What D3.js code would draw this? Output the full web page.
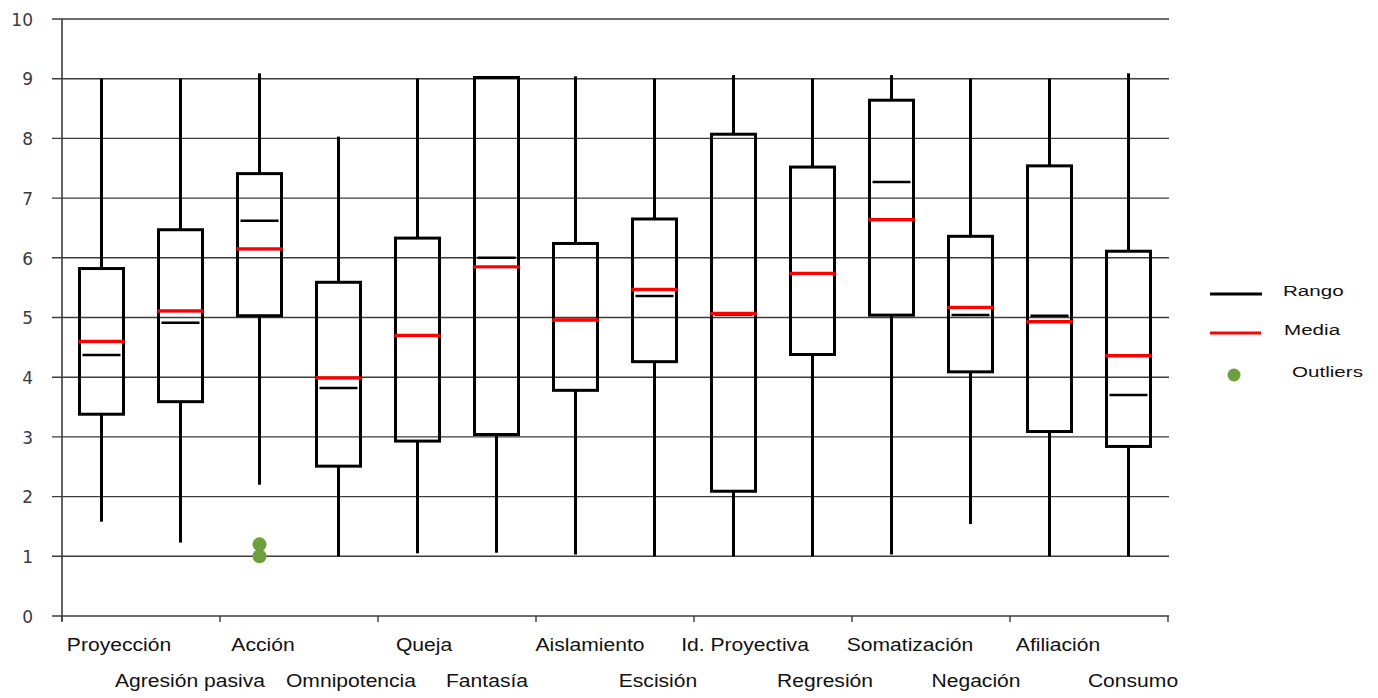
<!DOCTYPE html>
<html>
<head>
<meta charset="utf-8">
<script src="https://cdn.jsdelivr.net/npm/d3@7/dist/d3.min.js"></script>
<style>
  html, body { margin: 0; padding: 0; background: #ffffff; }
  svg { display: block; }
</style>
</head>
<body>
<svg id="chart" width="1378" height="698"></svg>
<script>
// ---- data ----
const categories = ["Proyección", "Agresión pasiva", "Acción", "Omnipotencia", "Queja", "Fantasía",
  "Aislamiento", "Escisión", "Id. Proyectiva", "Regresión", "Somatización", "Negación", "Afiliación", "Consumo"];
const maxValues    = [9.00, 9.00, 9.09, 8.03, 9.00, 9.02, 9.04, 9.00, 9.06, 9.00, 9.06, 9.00, 9.00, 9.09];
const q3Values     = [5.82, 6.47, 7.41, 5.59, 6.33, 9.02, 6.24, 6.65, 8.07, 7.52, 8.64, 6.36, 7.54, 6.11];
const medianValues = [4.37, 4.91, 6.62, 3.82, 4.70, 6.00, 4.96, 5.36, 5.05, 5.74, 7.27, 5.04, 5.03, 3.70];
const meanValues   = [4.60, 5.11, 6.15, 3.99, 4.70, 5.85, 4.96, 5.47, 5.07, 5.74, 6.64, 5.17, 4.93, 4.36];
const q1Values     = [3.38, 3.59, 5.03, 2.51, 2.93, 3.04, 3.78, 4.26, 2.09, 4.38, 5.04, 4.09, 3.09, 2.84];
const minValues    = [1.58, 1.23, 2.20, 1.00, 1.05, 1.06, 1.03, 1.00, 1.00, 1.00, 1.03, 1.54, 1.00, 1.00];
const outlierCategories = ["Acción", "Acción"];
const outlierValues     = [1.2, 1.0];
const yTickValues = [0, 1, 2, 3, 4, 5, 6, 7, 8, 9, 10];
const legendLabels = ["Rango", "Media", "Outliers"];

// ---- layout (not data) ----
const labelNudge = [17.5, 9.5, 3.5, 12.5, 6.5, -9.5, 14.5, 3.5, 11.5, 12.5, 18.5, 5.5, 8.5, 4.5];

const rows = categories.map((c, i) => ({
  cat: c, max: maxValues[i], q3: q3Values[i], median: medianValues[i],
  mean: meanValues[i], q1: q1Values[i], min: minValues[i], nudge: labelNudge[i], idx: i
}));
const outliers = outlierCategories.map((c, i) => ({ cat: c, value: outlierValues[i] }));

const svg = d3.select("#chart");
const plotLeft = 62, plotRight = 1168, plotTop = 19, plotBottom = 616;

const x = d3.scaleBand().domain(categories).range([plotLeft, plotRight]).padding(0);
const y = d3.scaleLinear().domain([0, 10]).range([plotBottom, plotTop]);

const gridColor = "#3c3c3c";

// gridlines (including 0 baseline)
svg.append("g")
  .selectAll("line")
  .data(yTickValues)
  .join("line")
  .attr("x1", plotLeft - 10).attr("x2", plotRight + 1)
  .attr("y1", d => y(d)).attr("y2", d => y(d))
  .attr("stroke", gridColor).attr("stroke-width", 1.4);

// y axis via d3 axis (labels), then restyle
const yAxis = svg.append("g")
  .attr("transform", `translate(${plotLeft},0)`)
  .call(d3.axisLeft(y).tickValues(yTickValues).tickSize(0).tickPadding(29).tickFormat(d3.format("d")));
yAxis.select(".domain").remove();
yAxis.selectAll("text")
  .attr("font-family", "'DejaVu Sans', Verdana, sans-serif")
  .attr("font-size", 17)
  .attr("fill", "#3a3a3a")
  .attr("dy", "0.37em");

// vertical y axis line
svg.append("line")
  .attr("x1", plotLeft).attr("x2", plotLeft)
  .attr("y1", y(10)).attr("y2", plotBottom + 5)
  .attr("stroke", gridColor).attr("stroke-width", 1.6);

// x axis ticks every two categories
const tickIdx = d3.range(0, categories.length + 1, 2);
svg.append("g")
  .selectAll("line")
  .data(tickIdx)
  .join("line")
  .attr("x1", i => i < categories.length ? x(categories[i]) : plotRight)
  .attr("x2", i => i < categories.length ? x(categories[i]) : plotRight)
  .attr("y1", plotBottom).attr("y2", plotBottom + 6)
  .attr("stroke", gridColor).attr("stroke-width", 1.4);

// boxes
const boxW = 44;
const cx = d => x(d.cat) + x.bandwidth() / 2;
const boxes = svg.append("g").selectAll("g").data(rows).join("g");

// whiskers
boxes.append("line")
  .attr("x1", cx).attr("x2", cx)
  .attr("y1", d => y(d.max)).attr("y2", d => y(d.q3))
  .attr("stroke", "#000").attr("stroke-width", 3);
boxes.append("line")
  .attr("x1", cx).attr("x2", cx)
  .attr("y1", d => y(d.q1)).attr("y2", d => y(d.min))
  .attr("stroke", "#000").attr("stroke-width", 3);

// box
boxes.append("rect")
  .attr("x", d => cx(d) - boxW / 2)
  .attr("width", boxW)
  .attr("y", d => y(d.q3))
  .attr("height", d => y(d.q1) - y(d.q3))
  .attr("fill", "none")
  .attr("stroke", "#000").attr("stroke-width", 3);

// median
boxes.append("line")
  .attr("x1", d => cx(d) - boxW / 2 + 3).attr("x2", d => cx(d) + boxW / 2 - 3)
  .attr("y1", d => y(d.median)).attr("y2", d => y(d.median))
  .attr("stroke", "#000").attr("stroke-width", 2.5);

// mean
boxes.append("line")
  .attr("x1", d => cx(d) - boxW / 2 - 2).attr("x2", d => cx(d) + boxW / 2 + 2)
  .attr("y1", d => y(d.mean) + 1).attr("y2", d => y(d.mean) + 1)
  .attr("stroke", "#9a5a9a").attr("stroke-width", 1.5).attr("opacity", 0.6);
boxes.append("line")
  .attr("x1", d => cx(d) - boxW / 2 - 1).attr("x2", d => cx(d) + boxW / 2 + 1)
  .attr("y1", d => y(d.mean)).attr("y2", d => y(d.mean))
  .attr("stroke", "#ff0000").attr("stroke-width", 3.2);

// outliers
svg.append("g")
  .selectAll("circle")
  .data(outliers)
  .join("circle")
  .attr("cx", d => x(d.cat) + x.bandwidth() / 2)
  .attr("cy", d => y(d.value))
  .attr("r", 7)
  .attr("fill", "#6e9e3e");

// category labels (two staggered rows)
const labelG = svg.append("g")
  .selectAll("g")
  .data(rows)
  .join("g")
  .attr("transform", d => `translate(${cx(d) + d.nudge},${d.idx % 2 === 0 ? 651 : 687})`);
labelG.append("text")
  .attr("transform", "scale(1.14,1)")
  .attr("text-anchor", "middle")
  .attr("font-family", "'Liberation Sans', Arial, sans-serif")
  .attr("font-size", 18.5)
  .attr("fill", "#111")
  .text(d => d.cat);

// legend
const legend = svg.append("g");
legend.append("line")
  .attr("x1", 1210).attr("x2", 1262).attr("y1", 294).attr("y2", 294)
  .attr("stroke", "#000").attr("stroke-width", 3.2);
legend.append("line")
  .attr("x1", 1210).attr("x2", 1261).attr("y1", 333).attr("y2", 333)
  .attr("stroke", "#ff0000").attr("stroke-width", 3.2);
legend.append("circle")
  .attr("cx", 1234).attr("cy", 375).attr("r", 6.5)
  .attr("fill", "#6e9e3e");
const legendPos = [[1283, 296], [1284, 335], [1292, 377]];
legend.selectAll("g.lt")
  .data(legendLabels)
  .join("g")
  .attr("class", "lt")
  .attr("transform", (d, i) => `translate(${legendPos[i][0]},${legendPos[i][1]})`)
  .append("text")
  .attr("transform", "scale(1.33,1)")
  .attr("font-family", "'Liberation Sans', Arial, sans-serif")
  .attr("font-size", 15.5)
  .attr("fill", "#111")
  .text(d => d);
</script>
</body>
</html>
